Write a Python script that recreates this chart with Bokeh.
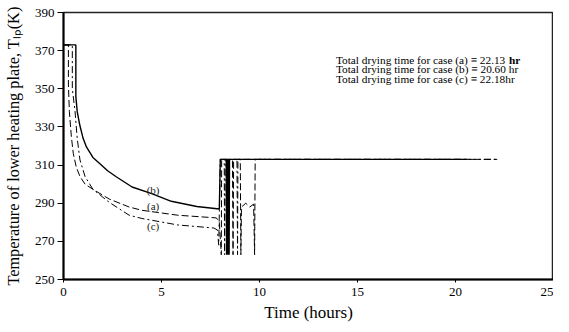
from bokeh.plotting import figure
from bokeh.models import Label, FixedTicker
from bokeh.core.properties import value
from bokeh.embed import file_html
from bokeh.resources import INLINE

# ---- data ----
b_time = [0.0, 0.63, 0.63, 0.7, 0.83, 1.0, 1.17, 1.5, 1.83, 2.25, 2.67, 3.5, 4.5, 5.5, 6.8, 7.95,
          8.0, 8.3, 8.32, 8.35, 8.38, 8.42, 8.45, 8.47, 20.6]
b_temp = [373, 373, 346, 338, 331, 324, 319.5, 314, 311, 307, 304, 298.5, 295, 291, 288.3, 287,
          313, 313, 263, 313, 263, 313, 263, 313, 313]

a_time = [0.0, 0.25, 0.25, 0.3, 0.4, 0.5, 0.65, 0.84, 1.1, 1.5, 2.33, 3.35, 4.0, 5.83, 7.8, 7.95,
          8.05, 8.07, 8.62, 8.65, 8.68, 9.02, 9.05, 9.08, 9.3, 9.5, 9.7, 9.75, 9.78, 22.13]
a_temp = [373, 373, 352, 338, 325, 316, 309, 304, 300, 297.3, 292.2, 288, 286.3, 283.7, 282.3, 280,
          263, 313, 313, 263, 313, 313, 263, 288, 290, 288, 289.5, 263, 313, 313]

c_time = [0.0, 0.45, 0.45, 0.59, 0.7, 0.84, 1.1, 1.5, 2.33, 3.35, 4.0, 5.83, 7.67, 7.85, 7.92,
          8.0, 8.2, 8.22, 8.25, 8.85, 8.88, 8.9, 22.18]
c_temp = [373, 373, 350, 338, 324, 312.7, 304, 297.3, 290.5, 283.7, 282, 278.6, 277, 276, 268,
          313, 313, 263, 313, 313, 263, 313, 313]

x_ticks = [0, 5, 10, 15, 20, 25]
y_ticks = [250, 270, 290, 310, 330, 350, 370, 390]

x_title = "Time (hours)"
y_title = "Temperature of lower heating plate, T\u2097\u209a(K)"

notes = ["Total drying time for case (a) \u2261 22.13",
         "Total drying time for case (b) \u2261 20.60 hr",
         "Total drying time for case (c) \u2261 22.18hr"]
note_x = 13.9
note_y = [365.2, 360.2, 355.2]

curve_labels = ["(b)", "(a)", "(c)"]
curve_label_x = [4.57, 4.57, 4.57]
curve_label_y = [296.7, 288.5, 277.8]

SERIF = "Liberation Serif"

p = figure(width=553, height=324, x_range=(0, 25), y_range=(250, 390),
           output_backend="svg", toolbar_location=None,
           min_border_left=55, min_border_top=12, min_border_right=0, min_border_bottom=43)
p.background_fill_color = "white"
p.border_fill_color = "white"
p.outline_line_color = "#222222"
p.outline_line_width = 1.5
p.xgrid.visible = False
p.ygrid.visible = False

p.line(b_time, b_temp, line_color="black", line_width=1.4)
p.line(a_time, a_temp, line_color="black", line_width=1.0, line_dash="7 3")
p.line(c_time, c_temp, line_color="black", line_width=1.0, line_dash="7 3 2 3")

p.xaxis.ticker = FixedTicker(ticks=x_ticks)
p.yaxis.ticker = FixedTicker(ticks=y_ticks)
for ax in (p.xaxis[0], p.yaxis[0]):
    ax.axis_line_width = 2
    ax.axis_line_color = "black"
    ax.major_tick_line_color = "black"
    ax.major_tick_line_width = 1
    ax.minor_tick_line_color = None
    ax.major_label_text_font = SERIF
    ax.major_label_text_font_size = "13px"
    ax.major_label_text_color = "black"
    ax.axis_label_text_font = SERIF
    ax.axis_label_text_font_style = "normal"
    ax.axis_label_text_color = "black"

p.xaxis.major_tick_in = 0
p.xaxis.major_tick_out = 3
p.xaxis.major_label_standoff = 5
p.xaxis.axis_label = x_title
p.xaxis.axis_label_text_font_size = "17px"
p.xaxis.axis_label_standoff = 4

p.yaxis.major_tick_in = 0
p.yaxis.major_tick_out = 6
p.yaxis.major_label_standoff = 3
p.yaxis.axis_label = y_title
p.yaxis.axis_label_text_font_size = "16.3px"
p.yaxis.axis_label_standoff = 9

for t, yy in zip(notes, note_y):
    p.add_layout(Label(x=note_x, y=yy, text=t, text_font=SERIF, text_font_size="11.3px",
                       text_color="black", text_baseline="alphabetic"))
p.add_layout(Label(x=note_x, y=note_y[0], x_offset=173, text="hr", text_font=SERIF,
                   text_font_size="11.3px", text_font_style="bold", text_color="black",
                   text_baseline="alphabetic"))

p.text(curve_label_x, curve_label_y, text=curve_labels, text_font=value(SERIF),
       text_font_size="11px", text_color="#222222", text_align="center",
       text_baseline="middle")

open("out.html", "w").write(file_html(p, INLINE))
